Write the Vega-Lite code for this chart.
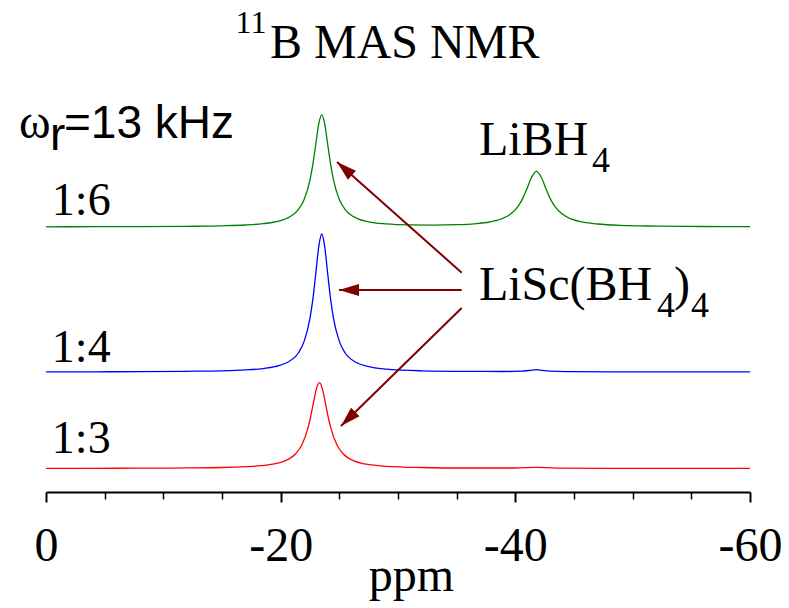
{
  "$schema": "https://vega.github.io/schema/vega-lite/v6.json",
  "autosize": {"type": "none"},
  "width": 704,
  "height": 492,
  "padding": {"left": 46, "top": 0, "right": 39, "bottom": 116},
  "background": "white",
  "config": {"view": {"stroke": null}},
  "datasets": {
    "spectra": [
      {"sample": "1:6", "ppm": 0, "signal": 265.2},
      {"sample": "1:6", "ppm": -4, "signal": 265.3},
      {"sample": "1:6", "ppm": -8, "signal": 265.4},
      {"sample": "1:6", "ppm": -12, "signal": 265.7},
      {"sample": "1:6", "ppm": -15, "signal": 266.2},
      {"sample": "1:6", "ppm": -17, "signal": 267.0},
      {"sample": "1:6", "ppm": -18.5, "signal": 268.3},
      {"sample": "1:6", "ppm": -19.5, "signal": 270.0},
      {"sample": "1:6", "ppm": -20.5, "signal": 273.5},
      {"sample": "1:6", "ppm": -21.5, "signal": 282.3},
      {"sample": "1:6", "ppm": -22, "signal": 292.4},
      {"sample": "1:6", "ppm": -22.5, "signal": 312.2},
      {"sample": "1:6", "ppm": -22.75, "signal": 328.2},
      {"sample": "1:6", "ppm": -23, "signal": 348.4},
      {"sample": "1:6", "ppm": -23.25, "signal": 368.3},
      {"sample": "1:6", "ppm": -23.5, "signal": 377.2},
      {"sample": "1:6", "ppm": -23.75, "signal": 368.3},
      {"sample": "1:6", "ppm": -24, "signal": 348.4},
      {"sample": "1:6", "ppm": -24.25, "signal": 328.2},
      {"sample": "1:6", "ppm": -24.5, "signal": 312.2},
      {"sample": "1:6", "ppm": -25, "signal": 292.5},
      {"sample": "1:6", "ppm": -25.5, "signal": 282.4},
      {"sample": "1:6", "ppm": -26.5, "signal": 273.7},
      {"sample": "1:6", "ppm": -27.5, "signal": 270.2},
      {"sample": "1:6", "ppm": -29, "signal": 268.1},
      {"sample": "1:6", "ppm": -31, "signal": 267.1},
      {"sample": "1:6", "ppm": -33, "signal": 266.9},
      {"sample": "1:6", "ppm": -35, "signal": 267.3},
      {"sample": "1:6", "ppm": -36.5, "signal": 268.2},
      {"sample": "1:6", "ppm": -37.8, "signal": 270.0},
      {"sample": "1:6", "ppm": -38.8, "signal": 273.0},
      {"sample": "1:6", "ppm": -39.6, "signal": 278.0},
      {"sample": "1:6", "ppm": -40.2, "signal": 285.2},
      {"sample": "1:6", "ppm": -40.6, "signal": 292.9},
      {"sample": "1:6", "ppm": -41.0, "signal": 303.6},
      {"sample": "1:6", "ppm": -41.4, "signal": 315.1},
      {"sample": "1:6", "ppm": -41.8, "signal": 320.6},
      {"sample": "1:6", "ppm": -42.2, "signal": 315.0},
      {"sample": "1:6", "ppm": -42.6, "signal": 303.6},
      {"sample": "1:6", "ppm": -43.0, "signal": 292.9},
      {"sample": "1:6", "ppm": -43.4, "signal": 285.1},
      {"sample": "1:6", "ppm": -44.0, "signal": 277.9},
      {"sample": "1:6", "ppm": -44.8, "signal": 272.8},
      {"sample": "1:6", "ppm": -45.8, "signal": 269.8},
      {"sample": "1:6", "ppm": -47, "signal": 268.0},
      {"sample": "1:6", "ppm": -49, "signal": 266.6},
      {"sample": "1:6", "ppm": -52, "signal": 265.9},
      {"sample": "1:6", "ppm": -56, "signal": 265.5},
      {"sample": "1:6", "ppm": -60, "signal": 265.3},
      {"sample": "1:4", "ppm": 0, "signal": 120.2},
      {"sample": "1:4", "ppm": -4, "signal": 120.2},
      {"sample": "1:4", "ppm": -8, "signal": 120.4},
      {"sample": "1:4", "ppm": -12, "signal": 120.7},
      {"sample": "1:4", "ppm": -15, "signal": 121.2},
      {"sample": "1:4", "ppm": -17, "signal": 122.1},
      {"sample": "1:4", "ppm": -18.5, "signal": 123.4},
      {"sample": "1:4", "ppm": -19.5, "signal": 125.3},
      {"sample": "1:4", "ppm": -20.5, "signal": 129.2},
      {"sample": "1:4", "ppm": -21.5, "signal": 139.0},
      {"sample": "1:4", "ppm": -22, "signal": 150.6},
      {"sample": "1:4", "ppm": -22.5, "signal": 173.9},
      {"sample": "1:4", "ppm": -22.75, "signal": 193.4},
      {"sample": "1:4", "ppm": -23, "signal": 219.3},
      {"sample": "1:4", "ppm": -23.25, "signal": 245.7},
      {"sample": "1:4", "ppm": -23.5, "signal": 258.0},
      {"sample": "1:4", "ppm": -23.75, "signal": 245.7},
      {"sample": "1:4", "ppm": -24, "signal": 219.3},
      {"sample": "1:4", "ppm": -24.25, "signal": 193.4},
      {"sample": "1:4", "ppm": -24.5, "signal": 173.9},
      {"sample": "1:4", "ppm": -25, "signal": 150.6},
      {"sample": "1:4", "ppm": -25.5, "signal": 139.0},
      {"sample": "1:4", "ppm": -26.5, "signal": 129.2},
      {"sample": "1:4", "ppm": -27.5, "signal": 125.3},
      {"sample": "1:4", "ppm": -29, "signal": 122.9},
      {"sample": "1:4", "ppm": -32, "signal": 121.2},
      {"sample": "1:4", "ppm": -36, "signal": 120.6},
      {"sample": "1:4", "ppm": -39, "signal": 120.5},
      {"sample": "1:4", "ppm": -40.5, "signal": 120.9},
      {"sample": "1:4", "ppm": -41.3, "signal": 121.7},
      {"sample": "1:4", "ppm": -41.8, "signal": 122.3},
      {"sample": "1:4", "ppm": -42.3, "signal": 121.7},
      {"sample": "1:4", "ppm": -43.1, "signal": 120.8},
      {"sample": "1:4", "ppm": -45, "signal": 120.3},
      {"sample": "1:4", "ppm": -50, "signal": 120.1},
      {"sample": "1:4", "ppm": -55, "signal": 120.1},
      {"sample": "1:4", "ppm": -60, "signal": 120.1},
      {"sample": "1:3", "ppm": 0, "signal": 23.6},
      {"sample": "1:3", "ppm": -4, "signal": 23.7},
      {"sample": "1:3", "ppm": -8, "signal": 23.8},
      {"sample": "1:3", "ppm": -12, "signal": 24.1},
      {"sample": "1:3", "ppm": -15, "signal": 24.5},
      {"sample": "1:3", "ppm": -17, "signal": 25.3},
      {"sample": "1:3", "ppm": -18.3, "signal": 26.3},
      {"sample": "1:3", "ppm": -19.3, "signal": 27.8},
      {"sample": "1:3", "ppm": -20.3, "signal": 30.9},
      {"sample": "1:3", "ppm": -21.3, "signal": 38.5},
      {"sample": "1:3", "ppm": -21.8, "signal": 47.0},
      {"sample": "1:3", "ppm": -22.3, "signal": 62.8},
      {"sample": "1:3", "ppm": -22.55, "signal": 75.0},
      {"sample": "1:3", "ppm": -22.8, "signal": 89.7},
      {"sample": "1:3", "ppm": -23.05, "signal": 103.4},
      {"sample": "1:3", "ppm": -23.3, "signal": 109.3},
      {"sample": "1:3", "ppm": -23.55, "signal": 103.4},
      {"sample": "1:3", "ppm": -23.8, "signal": 89.7},
      {"sample": "1:3", "ppm": -24.05, "signal": 75.0},
      {"sample": "1:3", "ppm": -24.3, "signal": 62.8},
      {"sample": "1:3", "ppm": -24.8, "signal": 47.0},
      {"sample": "1:3", "ppm": -25.3, "signal": 38.5},
      {"sample": "1:3", "ppm": -26.3, "signal": 30.9},
      {"sample": "1:3", "ppm": -27.3, "signal": 27.8},
      {"sample": "1:3", "ppm": -29, "signal": 25.7},
      {"sample": "1:3", "ppm": -32, "signal": 24.5},
      {"sample": "1:3", "ppm": -36, "signal": 24.0},
      {"sample": "1:3", "ppm": -40, "signal": 24.0},
      {"sample": "1:3", "ppm": -41.8, "signal": 24.7},
      {"sample": "1:3", "ppm": -43.5, "signal": 23.9},
      {"sample": "1:3", "ppm": -48, "signal": 23.6},
      {"sample": "1:3", "ppm": -54, "signal": 23.6},
      {"sample": "1:3", "ppm": -60, "signal": 23.6}
    ],
    "arrows": [
      {"ppm": -35.43, "signal": 219.3, "ppm2": -24.80, "signal2": 330, "heading": 311.6},
      {"ppm": -35.43, "signal": 202, "ppm2": -24.97, "signal2": 202, "heading": 270},
      {"ppm": -35.43, "signal": 184, "ppm2": -25.14, "signal2": 66, "heading": 225.6}
    ],
    "bigText": [
      {"label": "B MAS NMR", "ppm": -19.09, "signal": 434},
      {"label": "LiBH", "ppm": -36.90, "signal": 337},
      {"label": "LiSc(BH", "ppm": -36.90, "signal": 192},
      {"label": ")", "ppm": -53.52, "signal": 192},
      {"label": "ω", "ppm": 2.30, "signal": 354}
    ],
    "sampleText": [
      {"label": "1:6", "ppm": -0.50, "signal": 277},
      {"label": "1:4", "ppm": -0.50, "signal": 130},
      {"label": "1:3", "ppm": -0.50, "signal": 39}
    ],
    "subText": [
      {"label": "4", "ppm": -46.53, "signal": 320},
      {"label": "4", "ppm": -52.07, "signal": 175.3},
      {"label": "4", "ppm": -54.97, "signal": 175.3}
    ],
    "supText": [
      {"label": "11", "ppm": -17.47, "signal": 459}
    ],
    "sansText": [
      {"label": "=13 kHz", "ppm": -1.53, "signal": 354},
      {"label": "r", "ppm": -0.34, "signal": 342}
    ]
  },
  "resolve": {"axis": {"x": "independent", "y": "independent"}},
  "layer": [
    {
      "data": {"name": "spectra"},
      "mark": {"type": "line", "strokeWidth": 1.3, "interpolate": "monotone"},
      "encoding": {
        "x": {
          "field": "ppm", "type": "quantitative",
          "scale": {"domain": [0, -60], "nice": false, "zero": false},
          "axis": {
            "orient": "bottom",
            "values": [0, -20, -40, -60],
            "title": "ppm",
            "grid": false,
            "domainColor": "black", "domainWidth": 2,
            "tickColor": "black", "tickWidth": 2, "tickSize": 10,
            "labelFont": "Times New Roman, Liberation Serif, DejaVu Serif, serif", "labelFontSize": 48, "labelColor": "black",
            "labelBaseline": "alphabetic", "labelPadding": 58,
            "labelFlush": false, "labelOverlap": false,
            "labelExpr": "replace(datum.label, '−', '-')",
            "titleFont": "Times New Roman, Liberation Serif, DejaVu Serif, serif", "titleFontSize": 48, "titleFontWeight": "normal",
            "titleColor": "black", "titleBaseline": "alphabetic", "titleY": 98, "titleX": 365
          }
        },
        "y": {
          "field": "signal", "type": "quantitative",
          "scale": {"domain": [0, 492], "nice": false, "zero": false},
          "axis": null
        },
        "color": {
          "field": "sample", "type": "nominal",
          "scale": {"domain": ["1:6", "1:4", "1:3"], "range": ["#008000", "#0000ff", "#ff0000"]},
          "legend": null
        },
        "detail": {"field": "sample"}
      }
    },
    {
      "data": {"name": "arrows"},
      "mark": {"type": "rule", "color": "#800000", "strokeWidth": 2},
      "encoding": {
        "x": {
          "field": "ppm", "type": "quantitative",
          "scale": {"domain": [0, -60], "nice": false, "zero": false},
          "axis": {
            "orient": "bottom",
            "values": [-5, -10, -15, -25, -30, -35, -45, -50, -55],
            "labels": false, "domain": false, "title": null, "grid": false,
            "tickColor": "black", "tickWidth": 1.5, "tickSize": 7
          }
        },
        "y": {
          "field": "signal", "type": "quantitative",
          "scale": {"domain": [0, 492], "nice": false, "zero": false},
          "axis": null
        },
        "x2": {"field": "ppm2"},
        "y2": {"field": "signal2"}
      }
    },
    {
      "data": {"name": "arrows"},
      "mark": {"type": "point", "shape": "M0,0L0.6,2L-0.6,2Z", "size": 400, "filled": true, "color": "#800000", "opacity": 1, "strokeWidth": 0},
      "encoding": {
        "x": {
          "field": "ppm2", "type": "quantitative",
          "scale": {"domain": [0, -60], "nice": false, "zero": false},
          "axis": null
        },
        "y": {
          "field": "signal2", "type": "quantitative",
          "scale": {"domain": [0, 492], "nice": false, "zero": false},
          "axis": null
        },
        "angle": {"field": "heading", "type": "quantitative", "scale": null}
      }
    },
    {
      "data": {"name": "bigText"},
      "mark": {"type": "text", "font": "Times New Roman, Liberation Serif, DejaVu Serif, serif", "fontSize": 48, "align": "left", "baseline": "alphabetic", "color": "black"},
      "encoding": {
        "x": {"field": "ppm", "type": "quantitative", "scale": {"domain": [0, -60], "nice": false, "zero": false}, "axis": null},
        "y": {"field": "signal", "type": "quantitative", "scale": {"domain": [0, 492], "nice": false, "zero": false}, "axis": null},
        "text": {"field": "label"}
      }
    },
    {
      "data": {"name": "sampleText"},
      "mark": {"type": "text", "font": "Times New Roman, Liberation Serif, DejaVu Serif, serif", "fontSize": 46, "align": "left", "baseline": "alphabetic", "color": "black"},
      "encoding": {
        "x": {"field": "ppm", "type": "quantitative", "scale": {"domain": [0, -60], "nice": false, "zero": false}, "axis": null},
        "y": {"field": "signal", "type": "quantitative", "scale": {"domain": [0, 492], "nice": false, "zero": false}, "axis": null},
        "text": {"field": "label"}
      }
    },
    {
      "data": {"name": "subText"},
      "mark": {"type": "text", "font": "Times New Roman, Liberation Serif, DejaVu Serif, serif", "fontSize": 36, "align": "left", "baseline": "alphabetic", "color": "black"},
      "encoding": {
        "x": {"field": "ppm", "type": "quantitative", "scale": {"domain": [0, -60], "nice": false, "zero": false}, "axis": null},
        "y": {"field": "signal", "type": "quantitative", "scale": {"domain": [0, 492], "nice": false, "zero": false}, "axis": null},
        "text": {"field": "label"}
      }
    },
    {
      "data": {"name": "supText"},
      "mark": {"type": "text", "font": "Times New Roman, Liberation Serif, DejaVu Serif, serif", "fontSize": 32, "align": "center", "baseline": "alphabetic", "color": "black"},
      "encoding": {
        "x": {"field": "ppm", "type": "quantitative", "scale": {"domain": [0, -60], "nice": false, "zero": false}, "axis": null},
        "y": {"field": "signal", "type": "quantitative", "scale": {"domain": [0, 492], "nice": false, "zero": false}, "axis": null},
        "text": {"field": "label"}
      }
    },
    {
      "data": {"name": "sansText"},
      "mark": {"type": "text", "font": "Arial, Liberation Sans, DejaVu Sans, sans-serif", "fontSize": 46, "align": "left", "baseline": "alphabetic", "color": "black"},
      "encoding": {
        "x": {"field": "ppm", "type": "quantitative", "scale": {"domain": [0, -60], "nice": false, "zero": false}, "axis": null},
        "y": {"field": "signal", "type": "quantitative", "scale": {"domain": [0, 492], "nice": false, "zero": false}, "axis": null},
        "text": {"field": "label"}
      }
    }
  ]
}
